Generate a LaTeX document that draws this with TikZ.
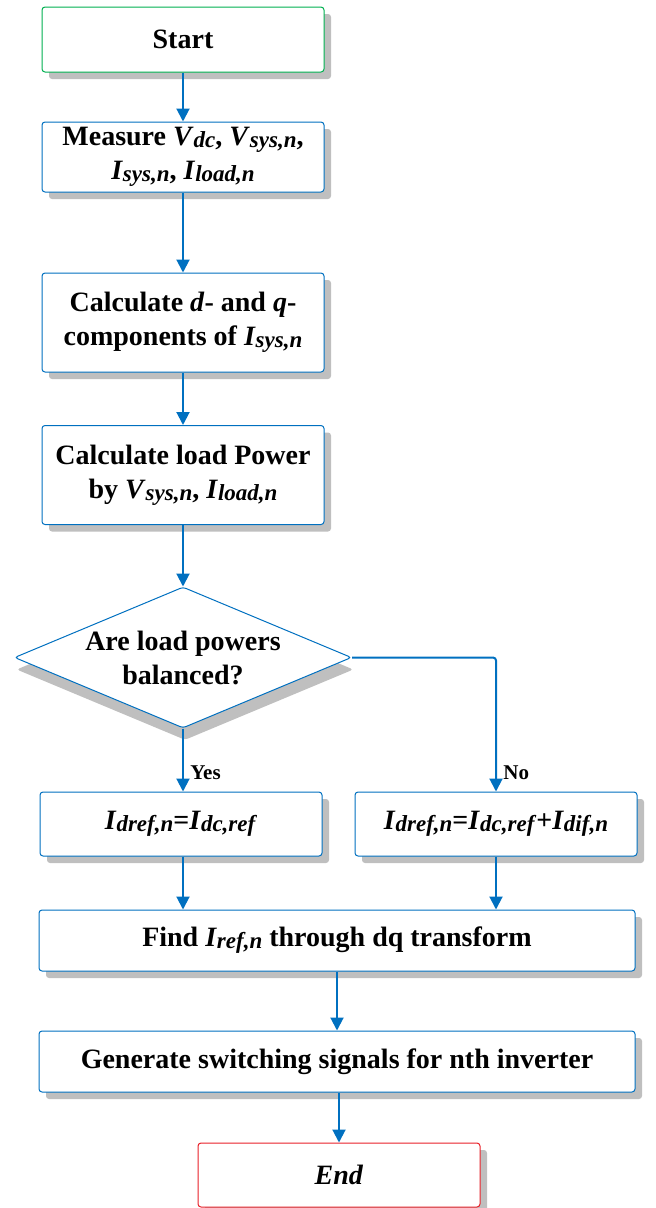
\documentclass[tikz,border=0pt]{standalone}
\usepackage{fontspec}
\setmainfont{Liberation Serif}
\usetikzlibrary{shapes.geometric,shadows,arrows.meta}

\definecolor{flowblue}{RGB}{0,112,192}
\definecolor{startgreen}{RGB}{0,176,80}
\definecolor{endred}{RGB}{232,32,40}
\definecolor{shadegray}{RGB}{191,191,191}

\newcommand{\subvar}[2]{\textit{#1}\raisebox{-0.15ex}{\fontsize{23}{23}\selectfont\textit{#2}}}

\tikzset{
	stepbox/.style={draw=flowblue, line width=1pt, rounded corners=3pt, fill=white,
		align=center, inner sep=0pt, minimum width=282pt,
		font=\fontsize{28}{34}\selectfont\bfseries,
		drop shadow={shadow xshift=7pt, shadow yshift=-7pt, fill=shadegray, opacity=1}},
	decision/.style={diamond, draw=flowblue, line width=1pt, rounded corners=3pt, fill=white,
		align=center, inner sep=0pt, aspect=2.39, minimum width=337pt, minimum height=141pt,
		font=\fontsize{28}{34}\selectfont\bfseries,
		drop shadow={shadow xshift=2pt, shadow yshift=-12pt, fill=shadegray, opacity=1}},
	flow/.style={draw=flowblue, line width=2pt, -{Triangle[length=13pt,width=13pt]}},
	branch/.style={font=\fontsize{21}{24}\selectfont\bfseries, anchor=west, xshift=3pt}
}

\begin{document}
\begin{tikzpicture}[x=1pt,y=-1pt]
	\useasboundingbox (0,0) rectangle (656,1208);

	\node [stepbox, draw=startgreen, minimum height=65pt] (start) at (183,39.5) {Start};
	\node [stepbox, minimum height=70pt] (measure) at (183,157)
		{Measure \subvar{V}{dc}, \subvar{V}{sys,n},\\ \subvar{I}{sys,n}, \subvar{I}{load,n}};
	\node [stepbox, minimum height=99pt] (dqcomp) at (183,322.5)
		{Calculate \textit{d}- and \textit{q}-\\ components of \subvar{I}{sys,n}};
	\node [stepbox, minimum height=99pt] (loadpow) at (183,475)
		{Calculate load Power\\ by \subvar{V}{sys,n}, \subvar{I}{load,n}};
	\node [decision] (balanced) at (183,657.5) {Are load powers\\ balanced?};
	\node [stepbox, minimum height=64pt] (yesref) at (181,824)
		{\subvar{I}{dref,n}=\subvar{I}{dc,ref}};
	\node [stepbox, minimum height=64pt] (noref) at (496,824)
		{\subvar{I}{dref,n}=\subvar{I}{dc,ref}+\subvar{I}{dif,n}};
	\node [stepbox, minimum width=596pt, minimum height=61pt] (findref) at (337,940.5)
		{Find \subvar{I}{ref,n} through dq transform};
	\node [stepbox, minimum width=596pt, minimum height=61pt] (gensig) at (337,1061.5)
		{Generate switching signals for nth inverter};
	\node [stepbox, draw=endred, minimum height=64pt] (stop) at (339,1175)
		{\textit{End}};

	\draw [flow] (start) -- (measure);
	\draw [flow] (measure) -- (dqcomp);
	\draw [flow] (dqcomp) -- (loadpow);
	\draw [flow] (loadpow) -- (balanced);
	\draw [flow] (balanced.south) -- (balanced.south |- yesref.north)
		node [branch, pos=0.7] (yeslbl) {Yes};
	\draw [flow, rounded corners=3pt] (balanced.east) -| (noref.north)
		node [branch, pos=0.93] (nolbl) {No};
	\draw [flow] (balanced.south |- yesref.south) -- (balanced.south |- findref.north);
	\draw [flow] (noref.south) -- (noref.south |- findref.north);
	\draw [flow] (findref) -- (gensig);
	\draw [flow] (gensig.south -| stop.north) -- (stop.north);
\end{tikzpicture}
\end{document}
